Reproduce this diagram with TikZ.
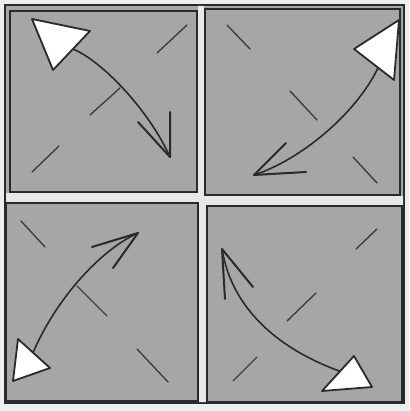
\documentclass[tikz,border=0pt]{standalone}
\begin{document}
\begin{tikzpicture}[x=1pt,y=-1pt,
  ink/.style={draw=inkc,line width=1.6pt,line cap=round,line join=round},
  pane/.style={fill=panec,draw=inkc,line width=1.8pt},
  tick/.style={draw=inkc!90,line width=1.4pt,line cap=round},
  shaft/.style={draw=inkc,line width=1.6pt,line cap=round},
  bighead/.style={fill=white,draw=inkc,line width=1.8pt,line join=round},
  barb/.style={draw=inkc,line width=2pt,line cap=round,line join=round},
  mullion/.style={fill=mulc}]
\definecolor{inkc}{RGB}{42,42,42}
\definecolor{panec}{RGB}{166,166,166}
\definecolor{bgc}{RGB}{238,238,238}
\definecolor{mulc}{RGB}{232,232,232}
\fill[bgc] (0,0) rectangle (409,411);
\useasboundingbox (0,0) rectangle (409,411);
% outer frame
\draw[fill=panec,draw=inkc,line width=2pt] (5,5) rectangle (404,403);
% mullions
\fill[mullion] (198,6) -- (204,6) -- (204,196) -- (206,196) -- (206,402) -- (199,402) -- (199,202) -- (198,202) -- cycle;
\fill[mullion] (6,193) -- (200,193) -- (200,196) -- (403,196) -- (403,205) -- (200,205) -- (200,202) -- (6,202) -- cycle;
% panes
\draw[pane] (10,11) rectangle (197,192);
\draw[pane] (205,9) rectangle (400,195);
\draw[pane] (6,203) rectangle (198,401);
\draw[pane] (207,206) rectangle (402,402);
% ticks TL
\draw[tick] (157,53) -- (187,25);
\draw[tick] (90,115) -- (120,88);
\draw[tick] (32,172) -- (59,146);
% ticks TR
\draw[tick] (227,25) -- (250,49);
\draw[tick] (290,91) -- (317,120);
\draw[tick] (353,157) -- (377,183);
% ticks BL
\draw[tick] (21,221) -- (45,247);
\draw[tick] (77,286) -- (107,316);
\draw[tick] (137,349) -- (168,382);
% ticks BR
\draw[tick] (356,249) -- (377,229);
\draw[tick] (287,321) -- (316,293);
\draw[tick] (233,381) -- (257,357);
% TL arrow
\coordinate (tlA) at (70,48);
\coordinate (tlB) at (170,157);
\draw[shaft] (tlA) .. controls (98,57) and (148,108) .. (tlB);
\draw[barb] (170,112) -- (tlB) -- (138,122);
\draw[bighead] (32,19) -- (90,31) -- (53,70) -- cycle;
% TR arrow
\coordinate (trA) at (378,68);
\coordinate (trB) at (254,175);
\draw[shaft] (trA) .. controls (355,115) and (300,160) .. (trB);
\draw[barb] (286,143) -- (trB) -- (306,172);
\draw[bighead] (354,49) -- (399,20) -- (394,80) -- cycle;
% BL arrow
\coordinate (blA) at (138,233);
\coordinate (blB) at (32,355);
\draw[shaft] (blA) .. controls (100,250) and (55,300) .. (blB);
\draw[barb] (92,247) -- (blA) -- (113,268);
\draw[bighead] (18,339) -- (50,368) -- (13,381) -- cycle;
% BR arrow
\coordinate (brA) at (222,249);
\coordinate (brB) at (342,372);
\draw[shaft] (brA) .. controls (232,310) and (280,350) .. (brB);
\draw[barb] (225,299) -- (brA) -- (253,287);
\draw[bighead] (354,356) -- (372,387) -- (322,391) -- cycle;
\end{tikzpicture}
\end{document}
